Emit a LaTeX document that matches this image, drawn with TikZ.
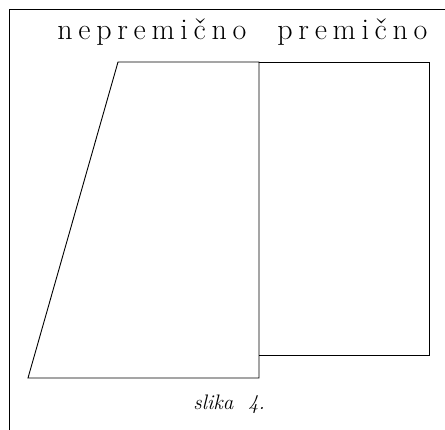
\documentclass[tikz,border=0pt]{standalone}
\usepackage{fontspec}
\setmainfont{Latin Modern Roman}
\newfontfamily\spacedfont[LetterSpace=19]{Latin Modern Roman}
\usepackage{tikz}

\begin{document}
\begin{tikzpicture}[x=1pt,y=-1pt,line width=0.9pt]
  \useasboundingbox (0,0) rectangle (445,430);
  % frame
  \draw (9,430) -- (9,9) -- (445,9);
  % nepremicno part
  \draw (118,62) -- (259,62) -- (259,378) -- (28,378) -- cycle;
  % premicno part
  \draw (259,62) -- (429,62) -- (429,355) -- (259,355);
  \node[anchor=base west,inner sep=0pt] (nep) at (57,40) {\spacedfont\fontsize{30}{30}\selectfont nepremično};
  \node[anchor=base west,inner sep=0pt] (prem) at (277,40) {\spacedfont\fontsize{30}{30}\selectfont premično};
  \node[anchor=base west,inner sep=0pt] (cap) at (193,410) {\itshape\fontsize{21}{21}\selectfont slika\ \ 4.};
\end{tikzpicture}
\end{document}
